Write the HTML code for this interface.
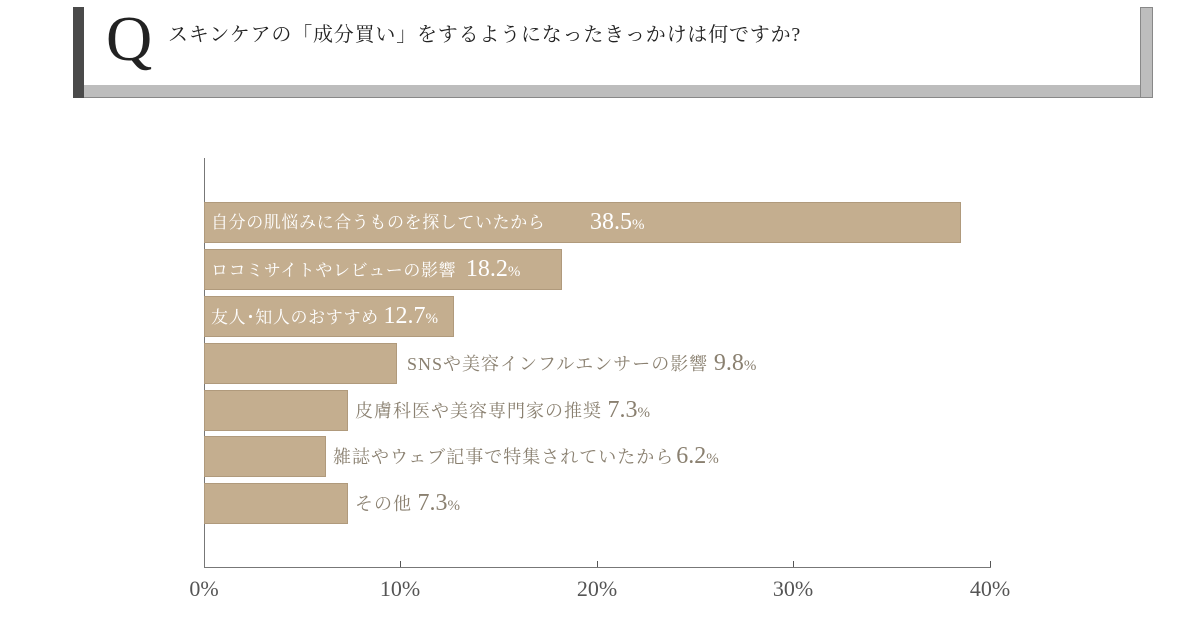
<!DOCTYPE html>
<html><head><meta charset="utf-8"><style>
body{margin:0;width:1200px;height:630px;background:#fff;position:relative;overflow:hidden;font-family:"Liberation Serif","Noto Serif CJK SC",serif}
.a{position:absolute}
.bar{position:absolute;left:204px;height:41px;background:#c4ae8f;border:1px solid #b09a7c;box-sizing:border-box}
.in{position:absolute;left:211px;color:#fff;font-size:17px;letter-spacing:0.6px;line-height:45px;white-space:nowrap}
.out{position:absolute;color:#8a8070;font-size:18px;letter-spacing:1px;line-height:45px;white-space:nowrap}
.p{font-size:24px;letter-spacing:0}
.p small{font-size:15px}
.t{position:absolute;top:576px;font-size:22px;color:#555;width:80px;text-align:center}
</style></head><body>
<div class="a" style="left:73px;top:7px;width:11px;height:91px;background:#4a4a4a"></div>
<div class="a" style="left:84px;top:85px;width:1069px;height:13px;background:#bdbdbd;border-bottom:1px solid #888;box-sizing:border-box"></div>
<div class="a" style="left:1140px;top:7px;width:13px;height:91px;background:#bdbdbd;border:1px solid #888;box-sizing:border-box"></div>
<div class="a" style="left:106px;top:4px;font-size:64px;line-height:70px;color:#222">Q</div>
<div class="a" style="left:168px;top:22px;font-size:20px;letter-spacing:0.8px;line-height:26px;color:#222;white-space:nowrap">スキンケアの「成分買い」をするようになったきっかけは何ですか?</div>

<div class="a" style="left:204px;top:158px;width:1px;height:410px;background:#777"></div>
<div class="a" style="left:204px;top:567px;width:787px;height:1px;background:#777"></div>
<div class="a" style="left:400px;top:561px;width:1px;height:6px;background:#555"></div>
<div class="a" style="left:597px;top:561px;width:1px;height:6px;background:#555"></div>
<div class="a" style="left:793px;top:561px;width:1px;height:6px;background:#555"></div>
<div class="a" style="left:990px;top:561px;width:1px;height:6px;background:#555"></div>
<div class="t" style="left:164px">0%</div>
<div class="t" style="left:360px">10%</div>
<div class="t" style="left:557px">20%</div>
<div class="t" style="left:753px">30%</div>
<div class="t" style="left:950px">40%</div>

<div class="bar" style="top:202px;width:757px"></div>
<div class="bar" style="top:249px;width:358px"></div>
<div class="bar" style="top:296px;width:250px"></div>
<div class="bar" style="top:343px;width:193px"></div>
<div class="bar" style="top:390px;width:144px"></div>
<div class="bar" style="top:436px;width:122px"></div>
<div class="bar" style="top:483px;width:144px"></div>

<div class="in" style="top:200px">自分の肌悩みに合うものを探していたから</div>
<div class="in p" style="top:200px;left:590px">38.5<small>%</small></div>
<div class="in" style="top:247px">ロコミサイトやレビューの影響 &nbsp;<span class="p">18.2<small>%</small></span></div>
<div class="in" style="top:294px">友人･知人のおすすめ <span class="p">12.7<small>%</small></span></div>
<div class="out" style="top:341px;left:407px">SNSや美容インフルエンサーの影響 <span class="p">9.8<small>%</small></span></div>
<div class="out" style="top:388px;left:355px">皮膚科医や美容専門家の推奨 <span class="p">7.3<small>%</small></span></div>
<div class="out" style="top:434px;left:333px">雑誌やウェブ記事で特集されていたから<span class="p" style="margin-left:2px">6.2<small>%</small></span></div>
<div class="out" style="top:481px;left:355px">その他 <span class="p">7.3<small>%</small></span></div>
</body></html>
